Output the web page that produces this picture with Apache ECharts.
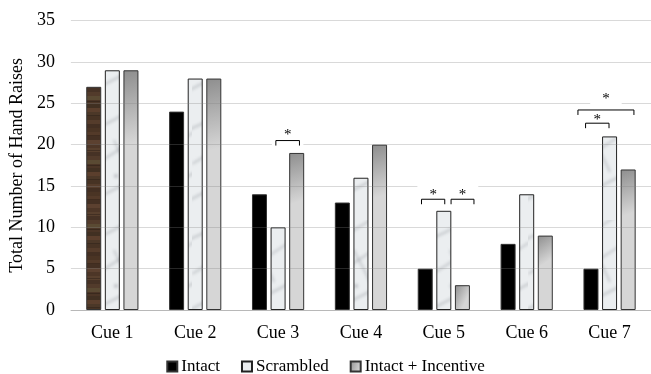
<!DOCTYPE html>
<html>
<head>
<meta charset="utf-8">
<style>
  html, body { margin: 0; padding: 0; background: #fff; }
  #chart { width: 651px; height: 374px; }
</style>
<script src="https://cdn.jsdelivr.net/npm/echarts@6/dist/echarts.min.js"></script>
</head>
<body>
<div id="chart"></div>
<script>
// Hand raises per cue and condition
const cues = ['Cue 1', 'Cue 2', 'Cue 3', 'Cue 4', 'Cue 5', 'Cue 6', 'Cue 7'];
const intact = [27, 24, 14, 13, 5, 8, 5];
const scrambled = [29, 28, 10, 16, 12, 14, 21];
const intactIncentive = [29, 28, 19, 20, 3, 9, 17];
const yTicks = [0, 5, 10, 15, 20, 25, 30, 35];

// Significance brackets: cue, bar slot span (0 = Intact, 1 = Scrambled, 2 = Intact + Incentive),
// height of the bracket and of its asterisk, in axis units
const brackets = [
  { cue: 'Cue 3', from: 0.88, to: 2.15, level: 20.5, star: 21.4 },
  { cue: 'Cue 5', from: -0.2, to: 1.05, level: 13.4, star: 14.2 },
  { cue: 'Cue 5', from: 1.39, to: 2.62, level: 13.4, star: 14.2 },
  { cue: 'Cue 7', from: -0.29, to: 0.97, level: 22.6, star: 23.2 },
  { cue: 'Cue 7', from: -0.7, to: 2.31, level: 24.2, star: 25.8 }
];

const FONT = "'Liberation Serif', 'Times New Roman', serif";
const BAR_WIDTH = 15;
const BAR_GAP = 0.24;
const SLOT = BAR_WIDTH * (1 + BAR_GAP);
const TICK_LEN = 5;

// Wood grain fill (horizontal streaks)
function woodTexture() {
  const c = document.createElement('canvas');
  c.width = 16; c.height = 64;
  const g = c.getContext('2d');
  const shades = ['#4a3424', '#533a29', '#443023', '#5c4130', '#4d3627', '#58402e',
                  '#463225', '#523b2b', '#5a4a33', '#4b3526', '#413022', '#5b3f2d',
                  '#4c3828', '#473324', '#553c2b', '#432f22'];
  const h = c.height / shades.length;
  shades.forEach((s, i) => { g.fillStyle = s; g.fillRect(0, i * h, 16, h + 0.5); });
  g.fillStyle = 'rgba(30,20,14,0.35)';
  [7, 22, 37, 51].forEach(y => g.fillRect(0, y, 16, 1));
  return c;
}

// Light marble fill (soft grey veins)
function marbleTexture() {
  const c = document.createElement('canvas');
  c.width = 48; c.height = 110;
  const g = c.getContext('2d');
  g.fillStyle = '#ebeef0';
  g.fillRect(0, 0, c.width, c.height);
  g.filter = 'blur(1.8px)';
  g.strokeStyle = 'rgba(150,156,162,0.45)';
  g.lineWidth = 2;
  const veins = [
    [[-4, 20], [10, 14], [24, 8], [40, -4]],
    [[0, 54], [14, 46], [22, 40], [50, 22]],
    [[-2, 90], [12, 82], [30, 74], [52, 62]],
    [[18, 30], [22, 40], [28, 48], [34, 62]]
  ];
  veins.forEach(v => {
    g.beginPath();
    g.moveTo(v[0][0], v[0][1]);
    g.bezierCurveTo(v[1][0], v[1][1], v[2][0], v[2][1], v[3][0], v[3][1]);
    g.stroke();
  });
  g.fillStyle = 'rgba(140,146,152,0.5)';
  g.beginPath(); g.arc(20, 66, 2, 0, Math.PI * 2); g.fill();
  return c;
}

const woodFill = { image: woodTexture(), repeat: 'repeat' };
const marbleFill = { image: marbleTexture(), repeat: 'repeat' };
const greyFill = new echarts.graphic.LinearGradient(0, 0, 1, 0.3, [
  { offset: 0, color: '#8e8e8e' },
  { offset: 1, color: '#d6d6d6' }
]);

const barBorder = { borderColor: '#333', borderWidth: 1 };

const bracketData = brackets.map(b => [cues.indexOf(b.cue), b.from, b.to, b.level, b.star]);

const chart = echarts.init(document.getElementById('chart'), null, { renderer: 'canvas' });

chart.setOption({
  animation: false,
  backgroundColor: '#fff',
  textStyle: { fontFamily: FONT, color: '#000' },
  grid: { left: 69, top: 20.7, width: 585, height: 289.3, containLabel: false },
  legend: {
    data: ['Intact', 'Scrambled', 'Intact + Incentive'],
    left: 'center',
    top: 353,
    itemWidth: 10,
    itemHeight: 10,
    itemGap: 21,
    icon: 'rect',
    textStyle: { fontFamily: FONT, fontSize: 17, color: '#000', padding: [0, 0, 0, -1] }
  },
  xAxis: {
    type: 'category',
    data: cues,
    axisLine: { show: true, lineStyle: { color: '#d0d0d0', width: 1 } },
    axisTick: { show: false },
    axisLabel: { fontFamily: FONT, fontSize: 18, color: '#000', margin: 14 }
  },
  yAxis: {
    type: 'value',
    min: yTicks[0],
    max: yTicks[yTicks.length - 1],
    interval: yTicks[1] - yTicks[0],
    z: 3,
    name: 'Total Number of Hand Raises',
    nameLocation: 'middle',
    nameGap: 37,
    nameTextStyle: { fontFamily: FONT, fontSize: 18, color: '#000' },
    axisLine: { show: false },
    axisTick: { show: false },
    axisLabel: { fontFamily: FONT, fontSize: 18, color: '#000', margin: 16 },
    splitLine: { show: true, lineStyle: { color: 'rgba(128,128,128,0.3)', width: 1 } }
  },
  series: [
    {
      name: 'Intact',
      type: 'bar',
      barWidth: BAR_WIDTH,
      barGap: (BAR_GAP * 100) + '%',
      itemStyle: Object.assign({ color: '#000' }, barBorder),
      data: intact.map((v, i) => i === 0 ? { value: v, itemStyle: { color: woodFill } } : v)
    },
    {
      name: 'Scrambled',
      type: 'bar',
      barWidth: BAR_WIDTH,
      barGap: (BAR_GAP * 100) + '%',
      itemStyle: Object.assign({ color: marbleFill }, barBorder, { borderColor: '#222' }),
      data: scrambled
    },
    {
      name: 'Intact + Incentive',
      type: 'bar',
      barWidth: BAR_WIDTH,
      barGap: (BAR_GAP * 100) + '%',
      itemStyle: Object.assign({ color: greyFill }, barBorder),
      data: intactIncentive
    },
    {
      name: 'significance',
      type: 'custom',
      z: 10,
      silent: true,
      data: bracketData,
      renderItem: function (params, api) {
        const centre = api.coord([api.value(0), 0])[0];
        const x0 = centre + (api.value(1) - 1) * SLOT;
        const x1 = centre + (api.value(2) - 1) * SLOT;
        const y = api.coord([api.value(0), api.value(3)])[1];
        const ys = api.coord([api.value(0), api.value(4)])[1];
        return {
          type: 'group',
          children: [
            {
              type: 'text',
              style: {
                x: (x0 + x1) / 2, y: ys + 2,
                text: '*',
                fontFamily: FONT, fontSize: 15, fill: '#000',
                align: 'center', verticalAlign: 'middle',
                backgroundColor: '#fff',
                padding: [2, 12, 4, 12]
              }
            },
            {
              type: 'polyline',
              shape: { points: [[x0, y + TICK_LEN], [x0, y], [x1, y], [x1, y + TICK_LEN]] },
              style: { stroke: '#000', lineWidth: 1, fill: null }
            }
          ]
        };
      }
    }
  ]
});
</script>
</body>
</html>
